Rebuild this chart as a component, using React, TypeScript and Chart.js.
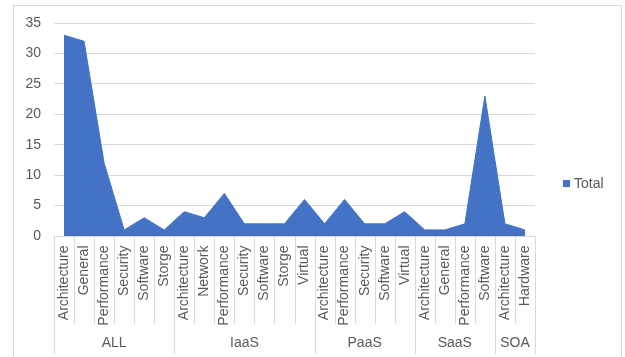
import React, { useEffect, useRef } from "react";
import { Chart, registerables } from "chart.js";

Chart.register(...registerables);

const groups = ["ALL", "IaaS", "PaaS", "SaaS", "SOA"];
const groupCategories: string[][] = [
  ["Architecture", "General", "Performance", "Security", "Software", "Storge"],
  ["Architecture", "Network", "Performance", "Security", "Software", "Storge", "Virtual"],
  ["Architecture", "Performance", "Security", "Software", "Virtual"],
  ["Architecture", "General", "Performance", "Software"],
  ["Architecture", "Hardware"],
];
const totals = [33, 32, 12, 1, 3, 1, 4, 3, 7, 2, 2, 2, 6, 2, 6, 2, 2, 4, 1, 1, 2, 23, 2, 1];
const yTicks = [0, 5, 10, 15, 20, 25, 30, 35];
const seriesName = "Total";

const labels: string[] = groupCategories.flat();

const FONT = "'Liberation Sans', Arial, sans-serif";
const TEXT = "#595959";
const GRID = "#d9d9d9";
const BLUE = "#4472C4";

const axisPlugin = {
  id: "multiAxis",
  afterDraw(chart: any) {
    const ctx = chart.ctx;
    const x = chart.scales.x;
    const area = chart.chartArea;
    const n = labels.length;
    const slot = (area.right - area.left) / n;
    const base = Math.round(area.bottom) + 0.5;
    ctx.save();
    // border
    ctx.strokeStyle = GRID;
    ctx.lineWidth = 1;
    ctx.strokeRect(13.5, 5.5, 608, 360);
    // axis line
    ctx.beginPath();
    ctx.moveTo(area.left, base);
    ctx.lineTo(area.right, base);
    ctx.stroke();
    // dividers
    const groupBounds = new Set<number>();
    let acc = 0;
    groupBounds.add(0);
    groupCategories.forEach((g) => {
      acc += g.length;
      groupBounds.add(acc);
    });
    for (let i = 0; i <= n; i++) {
      const px = Math.round(area.left + i * slot) + 0.5;
      ctx.beginPath();
      ctx.moveTo(px, base);
      ctx.lineTo(px, groupBounds.has(i) ? 354 : 324);
      ctx.stroke();
    }
    // category labels
    ctx.fillStyle = TEXT;
    ctx.font = `14px ${FONT}`;
    labels.forEach((lab, i) => {
      const cx = x.getPixelForValue(i);
      ctx.save();
      ctx.translate(cx, base + 9);
      ctx.rotate(-Math.PI / 2);
      ctx.textAlign = "right";
      ctx.textBaseline = "middle";
      ctx.fillText(lab, 0, 0);
      ctx.restore();
    });
    // group labels
    let start = 0;
    groups.forEach((g, gi) => {
      const len = groupCategories[gi].length;
      const cx = area.left + (start + len / 2) * slot;
      ctx.textAlign = "center";
      ctx.textBaseline = "middle";
      ctx.fillText(g, cx, 343);
      start += len;
    });
    // legend
    ctx.fillStyle = BLUE;
    ctx.fillRect(563, 180, 7, 7);
    ctx.fillStyle = TEXT;
    ctx.textAlign = "left";
    ctx.textBaseline = "middle";
    ctx.fillText(seriesName, 574, 184);
    ctx.restore();
  },
};

export default function App() {
  const ref = useRef<HTMLCanvasElement | null>(null);
  useEffect(() => {
    if (!ref.current) return;
    const chart = new Chart(ref.current, {
      type: "line",
      data: {
        labels,
        datasets: [
          {
            label: seriesName,
            data: totals,
            borderColor: BLUE,
            backgroundColor: BLUE,
            fill: "origin",
            borderWidth: 1,
            pointRadius: 0,
            tension: 0,
          },
        ],
      },
      options: {
        responsive: false,
        animation: false,
        layout: { padding: { left: 13, right: 90, top: 23, bottom: 0 } },
        plugins: { legend: { display: false }, tooltip: { enabled: false } },
        scales: {
          x: {
            type: "category",
            offset: true,
            grid: { display: false },
            border: { display: false },
            ticks: { display: false },
            afterFit: (s: any) => {
              s.height = 121;
            },
          },
          y: {
            min: 0,
            max: 35,
            afterBuildTicks: (s: any) => {
              s.ticks = yTicks.map((v) => ({ value: v }));
            },
            grid: { color: GRID, drawTicks: false },
            border: { display: false },
            ticks: {
              padding: 13,
              color: TEXT,
              font: { family: FONT, size: 14 },
            },
            afterFit: (s: any) => {
              s.width = 41;
            },
          },
        },
      },
      plugins: [axisPlugin],
    });
    return () => chart.destroy();
  }, []);
  return (
    <div style={{ position: "absolute", left: 0, top: 0, width: 625, height: 357, background: "#fff" }}>
      <canvas ref={ref} width={625} height={357} style={{ display: "block" }} />
    </div>
  );
}
